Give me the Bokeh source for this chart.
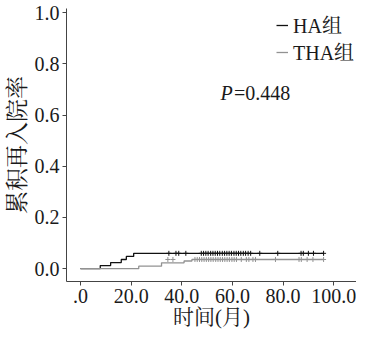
from bokeh.plotting import figure
from bokeh.models import FixedTicker, Legend, LegendItem, Label, Range1d
from bokeh.embed import file_html
from bokeh.resources import INLINE

# Step curves (time in months, cumulative readmission rate)
ha_time = [0.0, 7.8, 11.9, 16.1, 18.1, 21.0, 96.0]
ha_rate = [0.0, 0.012, 0.024, 0.036, 0.048, 0.060, 0.060]
tha_time = [0.0, 23.0, 32.0, 40.9, 44.0, 96.0]
tha_rate = [0.0, 0.010, 0.023, 0.030, 0.036, 0.036]

# Censored observations
ha_censor = [34.9, 37.7, 38.8, 41.6, 47.7, 48.6, 49.5, 50.4, 51.4, 52.3, 53.2, 54.1,
             55.0, 56.0, 56.9, 57.8, 58.7, 59.6, 60.6, 61.5, 62.4, 63.3, 64.3, 65.2,
             66.2, 67.2, 70.8, 77.9, 87.1, 88.0, 90.0, 92.0, 96.0]
tha_censor = [34.5, 36.5, 45.2, 46.1, 47.0, 47.9, 48.8, 49.7, 50.6, 51.5, 52.4, 53.4,
              54.3, 55.2, 56.1, 57.0, 57.9, 58.8, 59.8, 60.7, 61.6, 63.5, 65.5, 66.5,
              68.1, 69.1, 77.0, 86.3, 87.2, 89.5, 91.8, 96.0]

x_ticks = [0, 20, 40, 60, 80, 100]
x_tick_labels = [".0", "20.0", "40.0", "60.0", "80.0", "100.0"]
y_ticks = [0.0, 0.2, 0.4, 0.6, 0.8, 1.0]
y_tick_labels = ["0.0", "0.2", "0.4", "0.6", "0.8", "1.0"]

series_names = ["HA组", "THA组"]
x_title = "时间(月)"
y_title = "累积再入院率"
p_text = "=0.448"

SERIF = "'Liberation Serif', 'Noto Serif CJK SC', 'Noto Sans CJK SC', serif"

p = figure(width=356, height=331, output_backend="svg", toolbar_location=None,
           x_range=Range1d(-5.53, 109.0), y_range=Range1d(-0.05, 1.016),
           min_border_left=66, min_border_right=0, min_border_top=8, min_border_bottom=49)

p.grid.visible = False
p.outline_line_color = None
p.background_fill_color = "white"
p.border_fill_color = "white"

ha_r = p.step(ha_time, ha_rate, mode="after", line_color="#111111", line_width=1.3)
tha_r = p.step(tha_time, tha_rate, mode="after", line_color="#929292", line_width=1.3)

p.scatter(ha_censor, [ha_rate[-1]] * len(ha_censor), marker="cross",
          size=5, line_color="#111111", line_width=1)
p.scatter(tha_censor, [tha_rate[-1]] * len(tha_censor), marker="cross",
          size=5, line_color="#929292", line_width=1)

for ax in (p.xaxis, p.yaxis):
    ax.axis_line_color = "#444444"
    ax.axis_line_width = 1
    ax.major_tick_line_color = "#444444"
    ax.major_tick_out = 4
    ax.major_tick_in = 0
    ax.minor_tick_line_color = None
    ax.major_label_text_font = SERIF
    ax.major_label_text_font_size = "20px"
    ax.major_label_text_color = "#1a1a1a"
    ax.axis_label_text_font = SERIF
    ax.axis_label_text_font_style = "normal"
    ax.axis_label_text_color = "#1a1a1a"

p.xaxis.ticker = FixedTicker(ticks=x_ticks)
p.xaxis.major_label_overrides = {t: l for t, l in zip(x_ticks, x_tick_labels)}
p.yaxis.ticker = FixedTicker(ticks=y_ticks)
p.yaxis.major_label_overrides = {t: l for t, l in zip(y_ticks, y_tick_labels)}
p.xaxis.major_label_standoff = 3
p.yaxis.major_label_standoff = 3

p.xaxis.axis_label = x_title
p.xaxis.axis_label_text_font_size = "21px"
p.xaxis.axis_label_standoff = -1
p.yaxis.axis_label = y_title
p.yaxis.axis_label_text_font_size = "23px"
p.yaxis.axis_label_standoff = 2

legend_style = dict(orientation="vertical", label_text_font=SERIF, label_text_font_size="20px",
                    label_text_color="#1a1a1a", glyph_width=12, glyph_height=20,
                    label_height=20, label_standoff=5, spacing=0, padding=0, margin=0,
                    border_line_color=None, background_fill_alpha=0)
p.add_layout(Legend(items=[LegendItem(label=series_names[0], renderers=[ha_r])],
                    location=(210, 242), **legend_style))
p.add_layout(Legend(items=[LegendItem(label=series_names[1], renderers=[tha_r])],
                    location=(210, 215), **legend_style))

p.add_layout(Label(x=55.3, y=0.645, text="P", text_font=SERIF, text_font_style="italic",
                   text_font_size="20px", text_color="#1a1a1a"))
p.add_layout(Label(x=60.6, y=0.645, text=p_text, text_font=SERIF,
                   text_font_size="20px", text_color="#1a1a1a"))

open("out.html", "w").write(file_html(p, INLINE))
